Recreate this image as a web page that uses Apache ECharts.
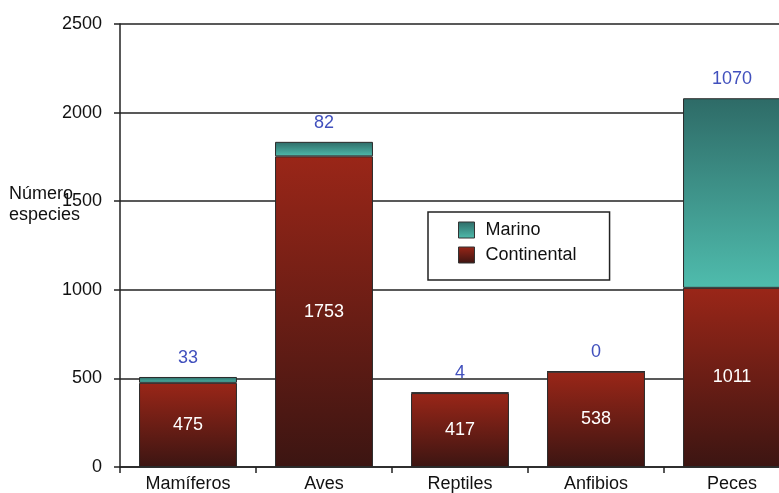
<!DOCTYPE html>
<html>
<head>
<meta charset="utf-8">
<script src="https://cdn.jsdelivr.net/npm/echarts@6/dist/echarts.min.js"></script>
<style>html,body{margin:0;padding:0;background:#fff;overflow:hidden;}#c{width:800px;height:493px;}</style>
</head>
<body>
<div id="c"></div>
<script>
var categories = ['Mamíferos', 'Aves', 'Reptiles', 'Anfibios', 'Peces'];
var continental = [475, 1753, 417, 538, 1011];
var marino = [33, 82, 4, 0, 1070];
var yTicks = [0, 500, 1000, 1500, 2000, 2500];

var FONT = 'Liberation Sans, Arial, sans-serif';
var FS = 18;
var chart = echarts.init(document.getElementById('c'));
chart.setOption({
  animation: false,
  backgroundColor: '#fff',
  textStyle: { fontFamily: FONT },
  grid: { left: 120, top: 24, right: 0, bottom: 26, containLabel: false },
  legend: {
    data: ['Marino', 'Continental'],
    orient: 'vertical',
    left: 428, top: 212,
    padding: [9, 33, 16, 30],
    itemGap: 7,
    itemWidth: 16, itemHeight: 16,
    icon: 'rect',
    itemStyle: { borderColor: '#333', borderWidth: 1 },
    borderColor: '#222', borderWidth: 1.5,
    textStyle: { fontSize: FS, color: '#111', fontFamily: FONT, padding: [0, 0, 0, 6] }
  },
  graphic: [{
    type: 'text', left: 9, top: 184,
    style: { text: 'Número\nespecies', lineHeight: 21, fill: '#111', font: FS + 'px ' + FONT }
  }],
  xAxis: {
    type: 'category', data: categories,
    axisLine: { lineStyle: { color: '#222', width: 1.5 } },
    axisTick: { show: true, length: 6, lineStyle: { color: '#222', width: 1.5 } },
    axisLabel: { fontSize: FS, color: '#111', margin: 8, fontFamily: FONT }
  },
  yAxis: {
    type: 'value', min: yTicks[0], max: yTicks[yTicks.length - 1], interval: 500,
    axisLine: { show: true, lineStyle: { color: '#222', width: 1.5 } },
    axisTick: { show: true, length: 6, lineStyle: { color: '#222', width: 1.5 } },
    axisLabel: { fontSize: FS, color: '#111', margin: 18, fontFamily: FONT, formatter: function (v) { return String(v); } },
    splitLine: { show: true, lineStyle: { color: '#222', width: 1.5 } }
  },
  series: [{
    name: 'Continental', type: 'bar', stack: 'a', data: continental,
    barCategoryGap: '28%',
    itemStyle: {
      borderColor: '#2a2a2a', borderWidth: 1,
      color: { type: 'linear', x: 0, y: 0, x2: 0, y2: 1, colorStops: [
        { offset: 0, color: '#9a2618' }, { offset: 1, color: '#3c1512' } ] }
    },
    label: { show: true, position: 'inside', color: '#fff', fontSize: FS, fontFamily: FONT }
  }, {
    name: 'Marino', type: 'bar', stack: 'a', data: marino,
    barCategoryGap: '28%',
    itemStyle: {
      borderColor: '#2a2a2a', borderWidth: 1,
      color: { type: 'linear', x: 0, y: 0, x2: 0, y2: 1, colorStops: [
        { offset: 0, color: '#2e6b67' }, { offset: 1, color: '#4fbcad' } ] }
    },
    label: { show: true, position: 'top', distance: 10, color: '#4150bd', fontSize: FS, fontFamily: FONT }
  }]
});
</script>
</body>
</html>
